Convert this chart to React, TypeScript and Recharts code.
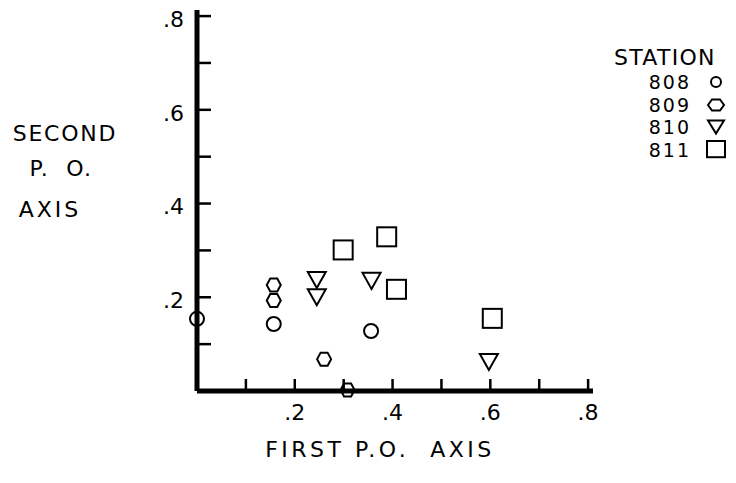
import React from 'react';
import { ScatterChart, Scatter, XAxis, YAxis, Legend } from 'recharts';

const FONT = '"DejaVu Sans", Verdana, sans-serif';

// axis ticks (minor every .1, labelled every .2)
const xTicks = [0.1, 0.2, 0.3, 0.4, 0.5, 0.6, 0.7, 0.8];
const yTicks = [0.1, 0.2, 0.3, 0.4, 0.5, 0.6, 0.7, 0.8];
const tickLabels: Record<string, string> = { '0.2': '.2', '0.4': '.4', '0.6': '.6', '0.8': '.8' };

// stations and their symbols
const stations = ['808', '809', '810', '811'];
const symbols = ['circle', 'hexagon', 'triangle', 'square'];

// first / second principal ordination axis scores per station
const station808 = [
  { x: 0.0, y: 0.154 },
  { x: 0.157, y: 0.143 },
  { x: 0.356, y: 0.128 },
];
const station809 = [
  { x: 0.157, y: 0.226 },
  { x: 0.157, y: 0.193 },
  { x: 0.26, y: 0.068 },
  { x: 0.308, y: 0.002 },
];
const station810 = [
  { x: 0.245, y: 0.237 },
  { x: 0.245, y: 0.2 },
  { x: 0.357, y: 0.235 },
  { x: 0.597, y: 0.062 },
];
const station811 = [
  { x: 0.299, y: 0.301 },
  { x: 0.388, y: 0.329 },
  { x: 0.408, y: 0.217 },
  { x: 0.604, y: 0.155 },
];
const seriesData = [station808, station809, station810, station811];

function Marker({ kind, cx, cy, small }: { kind: string; cx: number; cy: number; small?: boolean }) {
  const common = { fill: 'none', stroke: '#000', strokeWidth: 2 };
  if (kind === 'circle') {
    return <circle cx={cx} cy={cy} r={small ? 5 : 7} {...common} />;
  }
  if (kind === 'hexagon') {
    const w = small ? 8 : 7;
    const h = small ? 5.5 : 6.5;
    const pts = [
      [cx - w, cy],
      [cx - w / 2, cy - h],
      [cx + w / 2, cy - h],
      [cx + w, cy],
      [cx + w / 2, cy + h],
      [cx - w / 2, cy + h],
    ]
      .map((p) => p.join(','))
      .join(' ');
    return <polygon points={pts} {...common} />;
  }
  if (kind === 'triangle') {
    const w = small ? 8 : 9;
    const h = small ? 6.5 : 8;
    const pts = `${cx - w},${cy - h} ${cx + w},${cy - h} ${cx},${cy + h}`;
    return <polygon points={pts} {...common} strokeLinejoin="miter" />;
  }
  const s = small ? 9 : 9.5;
  return <rect x={cx - s} y={cy - s} width={s * 2} height={small ? s * 1.8 : s * 2} {...common} />;
}

const fmtTick = (v: number) => tickLabels[String(v)] ?? '';

const renderLegend = (props: any) => {
  const payload = props.payload || [];
  return (
    <div style={{ fontFamily: FONT, color: '#000' }}>
      <div style={{ fontSize: 22, letterSpacing: 1.3, textAlign: 'left', height: 26, lineHeight: '26px' }}>
        STATION
      </div>
      {payload.map((entry: any, i: number) => (
        <div
          key={entry.value}
          style={{
            display: 'flex',
            justifyContent: 'flex-end',
            alignItems: 'center',
            height: 22.5,
            fontSize: 19,
            lineHeight: '22px',
          }}
        >
          <span style={{ letterSpacing: 2 }}>{entry.value}</span>
          <svg width={26} height={22} style={{ marginLeft: 13 }}>
            <Marker kind={symbols[stations.indexOf(String(entry.value))] ?? symbols[i]} cx={12} cy={11} small />
          </svg>
        </div>
      ))}
    </div>
  );
};

const renderXTitle = () => (
  <text
    x={380}
    y={457}
    textAnchor="middle"
    fontFamily={FONT}
    fontSize={22}
    letterSpacing={3.5}
    fill="#000"
    style={{ whiteSpace: 'pre' }}
  >
    {'FIRST P.O.  AXIS'}
  </text>
);

const renderYTitle = () => (
  <g fontFamily={FONT} fontSize={22} fill="#000">
    <text x={65} y={141} textAnchor="middle" letterSpacing={1.8}>
      SECOND
    </text>
    <text x={61} y={176} textAnchor="middle" letterSpacing={1.5} style={{ whiteSpace: 'pre' }}>
      {'P.  O.'}
    </text>
    <text x={50} y={217} textAnchor="middle" letterSpacing={3}>
      AXIS
    </text>
  </g>
);

export default function App() {
  return (
    <div style={{ position: 'absolute', left: 0, top: 0, background: '#fff' }}>
      <ScatterChart width={736} height={483} margin={{ top: 10, right: 143, bottom: 0, left: 0 }}>
        <XAxis
          type="number"
          dataKey="x"
          domain={[0, 0.81]}
          ticks={xTicks}
          interval={0}
          tickFormatter={fmtTick}
          height={92}
          stroke="#000"
          axisLine={{ stroke: '#000', strokeWidth: 5 }}
          tickLine={{ stroke: '#000', strokeWidth: 2.5 }}
          tickSize={-12}
          tickMargin={25}
          tick={{ fill: '#000', fontSize: 22, fontFamily: FONT }}
          label={renderXTitle}
        />
        <YAxis
          type="number"
          dataKey="y"
          domain={[0, 0.813]}
          ticks={yTicks}
          interval={0}
          tickFormatter={fmtTick}
          width={197}
          stroke="#000"
          axisLine={{ stroke: '#000', strokeWidth: 5 }}
          tickLine={{ stroke: '#000', strokeWidth: 2.5 }}
          tickSize={-14}
          tickMargin={27}
          tick={{ fill: '#000', fontSize: 22, fontFamily: FONT, dy: 3 }}
          label={renderYTitle}
        />
        <Legend
          layout="vertical"
          align="center"
          verticalAlign="middle"
          content={renderLegend}
          wrapperStyle={{ left: 614, top: 45, width: 116 }}
        />
        {stations.map((name, i) => (
          <Scatter
            key={name}
            name={name}
            data={seriesData[i]}
            isAnimationActive={false}
            shape={(p: any) => <Marker kind={symbols[i]} cx={p.cx} cy={p.cy} />}
          />
        ))}
      </ScatterChart>
    </div>
  );
}
